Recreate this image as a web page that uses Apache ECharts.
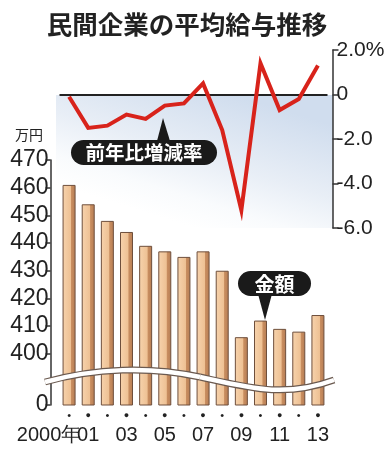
<!DOCTYPE html>
<html><head><meta charset="utf-8">
<script src="https://cdn.jsdelivr.net/npm/echarts@6/dist/echarts.min.js"></script>
<style>html,body{margin:0;padding:0;background:#fff}#c{width:392px;height:450px}</style>
</head><body><div id="c"></div>
<script>
const years = ['2000','2001','2002','2003','2004','2005','2006','2007','2008','2009','2010','2011','2012','2013'];
const yearLabels = ['2000年','01','','03','','05','','07','','09','','11','','13'];
const amounts = [461,454,448,444,439,437,435,437,430,406,412,409,408,414];
const yoyRates = [-0.1,-1.5,-1.4,-0.9,-1.1,-0.5,-0.4,0.5,-1.6,-5.2,1.4,-0.7,-0.2,1.3];
const amountTicks = [381.5,400,410,420,430,440,450,460,470];
const rateTicks = [-6,-4,-2,0,2];

const numFont = '"Liberation Sans","Arial",sans-serif';
const jpFont = '"Noto Sans CJK JP",sans-serif';

const waveSegs = [
  {x1:45,y1:382,cpx1:95,cpy1:368,cpx2:150,cpy2:366,x2:200,y2:377},
  {x1:200,y1:377,cpx1:250,cpy1:388,cpx2:285,cpy2:398,x2:334,y2:380}
];
const waveEls = [];
waveSegs.forEach(s=>waveEls.push({type:'bezierCurve', shape:s, style:{stroke:'#6b5a50', lineWidth:7, fill:null}, z:50}));
waveSegs.forEach(s=>waveEls.push({type:'bezierCurve', shape:s, style:{stroke:'#ffffff', lineWidth:4.5, fill:null}, z:51}));

const chart = echarts.init(document.getElementById('c'), null, {renderer:'canvas'});
chart.setOption({
  animation:false,
  backgroundColor:'#fff',
  grid:[
    {left:59.5, right:64.5, top:50, height:178},
    {left:59.5, right:64.5, top:160, bottom:45}
  ],
  xAxis:[
    {type:'category', gridIndex:0, data:years, axisLine:{show:false}, axisTick:{show:false}, axisLabel:{show:false}, splitLine:{show:false}},
    {type:'category', gridIndex:1, data:years, axisLine:{show:false}, axisTick:{show:false}, splitLine:{show:false},
     axisLabel:{interval:0, margin:4, color:'#222', fontFamily:numFont,
       formatter:(v,i)=>{
         const lab = yearLabels[i];
         const dot = (i%2===1) ? '{b|●}' : '{s|•}';
         if(i===0) return dot+'\n{f|'+lab+'}';
         return dot+'\n{y|'+(lab||' ')+'}';
       },
       rich:{
         b:{fontSize:9, color:'#222', lineHeight:14},
         s:{fontSize:11, color:'#222', lineHeight:14},
         y:{fontSize:20, fontFamily:numFont, color:'#222', lineHeight:24},
         f:{fontSize:20, fontFamily:numFont, color:'#222', lineHeight:24, padding:[0,40,0,0]}
       }}}
  ],
  yAxis:[
    {type:'value', gridIndex:0, position:'right', offset:5, min:-6, max:2, interval:2,
     axisLine:{show:true, lineStyle:{color:'#333', width:1.5}},
     axisTick:{show:true, length:6, lineStyle:{color:'#333', width:1.5}},
     splitLine:{show:false},
     axisLabel:{margin:4, color:'#222', fontSize:21, fontFamily:numFont,
       formatter:v=> v===2 ? '2.0%' : (v===0 ? '0' : v.toFixed(1))}},
    {type:'value', gridIndex:1, position:'left', offset:9, min:381.5, max:470,
     axisLine:{show:true, lineStyle:{color:'#333', width:1.5}},
     axisTick:{show:true, length:5, customValues:amountTicks, lineStyle:{color:'#333', width:1.5}},
     splitLine:{show:false},
     axisLabel:{margin:2, color:'#222', fontSize:23, fontFamily:numFont, customValues:amountTicks,
       formatter:v=> v<390 ? '0' : String(v)}}
  ],
  series:[
    {type:'bar', xAxisIndex:1, yAxisIndex:1, data:amounts, barWidth:13,
     itemStyle:{borderColor:'#6e4f3c', borderWidth:1,
       color:new echarts.graphic.LinearGradient(0,0,1,0,[
         {offset:0,color:'#f7d3ad'},{offset:0.62,color:'#eec194'},
         {offset:0.68,color:'#c98e60'},{offset:1,color:'#b67d54'}])}},
    {type:'line', xAxisIndex:0, yAxisIndex:0, data:yoyRates, symbol:'none', z:5,
     lineStyle:{color:'#d8231b', width:4, join:'miter'},
     markLine:{silent:true, symbol:'none', label:{show:false},
       lineStyle:{color:'#222', width:2, type:'solid'}, data:[{yAxis:0}]}}
  ],
  graphic:[
    {type:'rect', shape:{x:56, y:95, width:277, height:133}, z:-10, silent:true,
     style:{fill:new echarts.graphic.LinearGradient(0.65,0,0.5,1,[
       {offset:0,color:'#d0ddee'},{offset:0.5,color:'#e8eef6'},{offset:0.8,color:'#f9fbfd'},{offset:1,color:'#ffffff'}])}},
    {type:'text', x:187, y:24, style:{text:'民間企業の平均給与推移', fontSize:25.5, fontWeight:'bold', fontFamily:jpFont, fill:'#222', align:'center', verticalAlign:'middle'}},
    {type:'text', x:15, y:128, style:{text:'万円', fontSize:14, fontFamily:jpFont, fill:'#222'}},
    ...waveEls,
    {type:'polygon', shape:{points:[[157,141],[170,141],[163,118]]}, style:{fill:'#1a1a1a'}, z:60},
    {type:'rect', shape:{x:71, y:140, width:146, height:25, r:12.5}, style:{fill:'#1a1a1a'}, z:60},
    {type:'text', x:144, y:153, style:{text:'前年比増減率', fontSize:19.5, fontWeight:'bold', fontFamily:jpFont, fill:'#fff', align:'center', verticalAlign:'middle'}, z:61},
    {type:'polygon', shape:{points:[[258,294],[272,294],[265,320]]}, style:{fill:'#1a1a1a'}, z:60},
    {type:'rect', shape:{x:238, y:271, width:73, height:25, r:12.5}, style:{fill:'#1a1a1a'}, z:60},
    {type:'text', x:274.5, y:284, style:{text:'金額', fontSize:20, fontWeight:'bold', fontFamily:jpFont, fill:'#fff', align:'center', verticalAlign:'middle'}, z:61}
  ]
});
</script></body></html>
